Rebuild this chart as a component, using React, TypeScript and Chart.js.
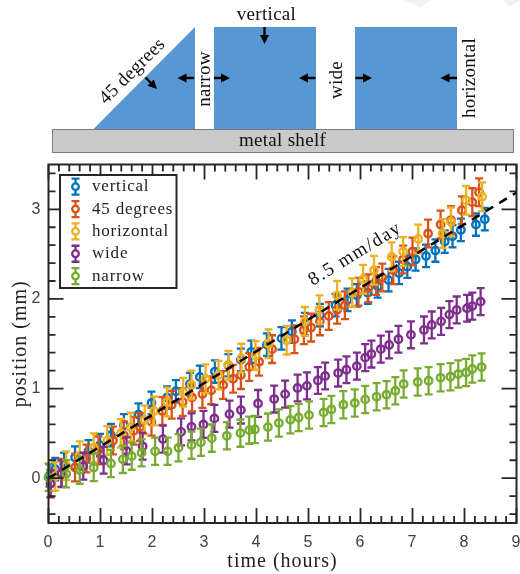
import React, { useEffect, useRef } from "react";
import { Chart, registerables } from "chart.js";

Chart.register(...registerables);

const seriesNames = ["vertical", "45 degrees", "horizontal", "wide", "narrow"];
const seriesColors = ["#0072BD", "#D95319", "#EDB120", "#7E2F8E", "#77AC30"];
const seriesErrors = [0.125, 0.155, 0.16, 0.15, 0.152];

const verticalT = [0.02, 0.13, 0.3, 0.51, 0.77, 0.99, 1.2, 1.45, 1.73, 1.98, 2.28, 2.45, 2.72, 2.91, 3.2, 3.46, 3.7, 3.9, 4.2, 4.48, 4.68, 4.93, 5.22, 5.52, 5.75, 5.93, 6.14, 6.33, 6.54, 6.74, 6.9, 7.06, 7.26, 7.44, 7.62, 7.77, 7.93, 8.22, 8.39];
const verticalY = [0.03, 0.1, 0.16, 0.23, 0.3, 0.37, 0.48, 0.59, 0.71, 0.84, 0.9, 0.97, 1.05, 1.13, 1.19, 1.26, 1.32, 1.41, 1.49, 1.56, 1.635, 1.72, 1.82, 1.93, 1.99, 2.04, 2.07, 2.14, 2.21, 2.29, 2.36, 2.44, 2.48, 2.54, 2.64, 2.7, 2.77, 2.83, 2.89];

const degreesT = [0.04, 0.25, 0.51, 0.73, 0.96, 1.24, 1.45, 1.64, 1.76, 1.98, 2.19, 2.37, 2.58, 2.76, 2.96, 3.13, 3.36, 3.55, 3.7, 3.86, 4.05, 4.3, 4.73, 4.91, 5.05, 5.22, 5.39, 5.55, 5.7, 5.96, 6.15, 6.3, 6.42, 6.63, 6.82, 7.0, 7.3, 7.54, 7.74, 7.95, 8.15, 8.28];
const degreesY = [-0.06, 0.06, 0.12, 0.22, 0.31, 0.42, 0.48, 0.53, 0.57, 0.63, 0.75, 0.82, 0.85, 0.9, 0.94, 0.98, 1.04, 1.11, 1.15, 1.24, 1.3, 1.44, 1.55, 1.65, 1.68, 1.75, 1.81, 1.88, 1.93, 2.08, 2.12, 2.2, 2.24, 2.32, 2.44, 2.53, 2.73, 2.83, 2.88, 2.99, 3.08, 3.19];

const horizontalT = [0.13, 0.34, 0.6, 0.87, 1.13, 1.39, 1.58, 1.85, 2.03, 2.28, 2.59, 2.75, 3.02, 3.27, 3.46, 3.71, 3.98, 4.23, 4.58, 4.93, 5.21, 5.55, 5.84, 6.05, 6.26, 6.6, 6.82, 7.11, 7.58, 7.74, 8.03, 8.34];
const horizontalY = [0.02, 0.14, 0.25, 0.34, 0.42, 0.5, 0.57, 0.65, 0.75, 0.85, 0.96, 1.04, 1.11, 1.15, 1.26, 1.34, 1.37, 1.5, 1.54, 1.75, 1.88, 2.04, 2.07, 2.22, 2.32, 2.47, 2.53, 2.67, 2.73, 2.86, 3.1, 3.14];

const wideT = [0.04, 0.25, 0.67, 1.06, 1.5, 1.81, 2.2, 2.55, 2.75, 2.98, 3.19, 3.48, 3.7, 4.03, 4.34, 4.55, 4.79, 4.97, 5.18, 5.32, 5.57, 5.73, 5.93, 6.09, 6.21, 6.39, 6.55, 6.73, 6.97, 7.22, 7.37, 7.55, 7.71, 7.85, 8.05, 8.15, 8.31];
const wideY = [-0.06, 0.05, 0.134, 0.2, 0.305, 0.357, 0.436, 0.517, 0.573, 0.6, 0.667, 0.715, 0.76, 0.834, 0.883, 0.938, 1.006, 1.03, 1.09, 1.14, 1.173, 1.21, 1.25, 1.345, 1.385, 1.44, 1.486, 1.55, 1.6, 1.654, 1.71, 1.75, 1.825, 1.877, 1.896, 1.92, 1.97];

const narrowT = [0, 0.34, 0.6, 0.87, 1.2, 1.43, 1.6, 1.79, 2.05, 2.29, 2.5, 2.75, 2.93, 3.14, 3.43, 3.69, 3.86, 3.97, 4.22, 4.43, 4.65, 4.81, 5.01, 5.29, 5.44, 5.67, 5.89, 6.09, 6.31, 6.5, 6.67, 6.83, 7.1, 7.31, 7.54, 7.73, 7.88, 8.03, 8.15, 8.33];
const narrowY = [0.01, 0.05, 0.09, 0.12, 0.164, 0.21, 0.246, 0.283, 0.3, 0.3, 0.339, 0.369, 0.4, 0.447, 0.473, 0.503, 0.536, 0.544, 0.57, 0.615, 0.651, 0.678, 0.704, 0.734, 0.767, 0.819, 0.838, 0.879, 0.908, 0.931, 0.976, 1.05, 1.073, 1.087, 1.12, 1.132, 1.162, 1.18, 1.218, 1.24];

const seriesT = [verticalT, degreesT, horizontalT, wideT, narrowT];
const seriesY = [verticalY, degreesY, horizontalY, wideY, narrowY];

const fitT = [0, 9];
const fitY = [0, 3.1875];
const fitLabel = "8.5 mm/day";
const fitLabelAt = [5.9, 2.5];

const yTicks = [-0.4, -0.2, 0, 0.2, 0.4, 0.6, 0.8, 1, 1.2, 1.4, 1.6, 1.8, 2, 2.2, 2.4, 2.6, 2.8, 3, 3.2, 3.4];

const xLabel = "time (hours)";
const yLabel = "position (mm)";
const SERIF = '"Liberation Serif"';
const AXIS = "#262626";

function arrow(ctx: CanvasRenderingContext2D, x1: number, y1: number, x2: number, y2: number) {
  const a = Math.atan2(y2 - y1, x2 - x1);
  const len = Math.hypot(x2 - x1, y2 - y1);
  ctx.save();
  ctx.translate(x1, y1);
  ctx.rotate(a);
  ctx.fillStyle = "#000";
  ctx.fillRect(0, -1.2, len - 6, 2.4);
  ctx.beginPath();
  ctx.moveTo(len, 0);
  ctx.lineTo(len - 9, -4.5);
  ctx.lineTo(len - 9, 4.5);
  ctx.closePath();
  ctx.fill();
  ctx.restore();
}

function label(ctx: CanvasRenderingContext2D, text: string, x: number, y: number, deg: number, size: number, spacing: number) {
  ctx.save();
  ctx.translate(x, y);
  ctx.rotate((deg * Math.PI) / 180);
  (ctx as any).letterSpacing = spacing + "px";
  ctx.font = `${size}px ${SERIF}`;
  ctx.fillStyle = "#111";
  ctx.textAlign = "center";
  ctx.textBaseline = "middle";
  ctx.fillText(text, 0, 0);
  ctx.restore();
}

function drawSchematic(ctx: CanvasRenderingContext2D) {
  ctx.save();
  ctx.fillStyle = "#f1f1f1";
  ctx.beginPath();
  ctx.moveTo(404, 0); ctx.lineTo(432, 0); ctx.lineTo(420, 7); ctx.closePath();
  ctx.moveTo(503, 0); ctx.lineTo(520, 0); ctx.lineTo(510, 7); ctx.closePath();
  ctx.fill();

  ctx.fillStyle = "#5797D3";
  ctx.beginPath();
  ctx.moveTo(93, 129.5); ctx.lineTo(195, 27); ctx.lineTo(195, 129.5); ctx.closePath();
  ctx.fill();
  ctx.fillRect(214, 27, 102, 102.5);
  ctx.fillRect(355, 27, 102, 102.5);

  ctx.fillStyle = "#c9c9c9";
  ctx.strokeStyle = "#7a7a7a";
  ctx.lineWidth = 1;
  ctx.fillRect(52.5, 129.5, 461, 23);
  ctx.strokeRect(52.5, 129.5, 461, 23);

  arrow(ctx, 264.5, 27, 264.5, 44);
  arrow(ctx, 145.5, 77.5, 157, 89);
  arrow(ctx, 194, 78, 177.5, 78);
  arrow(ctx, 214, 78, 230, 78);
  arrow(ctx, 315.5, 78, 299, 78);
  arrow(ctx, 355.5, 78, 372, 78);
  arrow(ctx, 457, 78, 440.5, 78);

  label(ctx, "vertical", 266.5, 15.5, 0, 19, 0.3);
  label(ctx, "45 degrees", 132.5, 71.5, -45, 19, 0.3);
  label(ctx, "narrow", 205.5, 79, -90, 19, 0.3);
  label(ctx, "wide", 337, 80, -90, 19, 0.3);
  label(ctx, "horizontal", 470.5, 78, -90, 19, 0.3);
  label(ctx, "metal shelf", 282.5, 141.5, 0, 19, 0.3);
  ctx.restore();
}

const overlay = {
  id: "overlay",
  beforeDraw(chart: any) {
    const ctx = chart.ctx;
    drawSchematic(ctx);
    ctx.letterSpacing = "1px";
  },
  beforeDatasetDraw(chart: any, args: any) {
    const i = args.index;
    if (i >= seriesNames.length) return;
    const { x, y } = chart.scales;
    const ctx = chart.ctx;
    ctx.save();
    ctx.strokeStyle = seriesColors[i];
    ctx.lineWidth = 2.3;
    ctx.beginPath();
    seriesT[i].forEach((t: number, k: number) => {
      const px = x.getPixelForValue(t);
      const top = y.getPixelForValue(seriesY[i][k] + seriesErrors[i]);
      const bot = y.getPixelForValue(seriesY[i][k] - seriesErrors[i]);
      ctx.moveTo(px, top); ctx.lineTo(px, bot);
      ctx.moveTo(px - 4, top); ctx.lineTo(px + 4, top);
      ctx.moveTo(px - 4, bot); ctx.lineTo(px + 4, bot);
    });
    ctx.stroke();
    ctx.restore();
  },
  afterDatasetsDraw(chart: any) {
    const { x, y } = chart.scales;
    const ctx = chart.ctx;
    const { left, right, top, bottom } = chart.chartArea;
    ctx.save();
    ctx.strokeStyle = AXIS;
    ctx.lineWidth = 1.8;
    ctx.beginPath();
    const isMajor = (v: number) => Math.abs(v - Math.round(v)) < 1e-6;
    x.ticks.forEach((t: any) => {
      const p = x.getPixelForValue(t.value);
      const l = isMajor(t.value) ? 15 : 7;
      ctx.moveTo(p, bottom); ctx.lineTo(p, bottom - l);
      ctx.moveTo(p, top); ctx.lineTo(p, top + l);
    });
    y.ticks.forEach((t: any) => {
      const p = y.getPixelForValue(t.value);
      const l = isMajor(t.value) ? 15 : 7;
      ctx.moveTo(left, p); ctx.lineTo(left + l, p);
      ctx.moveTo(right, p); ctx.lineTo(right - l, p);
    });
    ctx.stroke();
    ctx.lineWidth = 2;
    ctx.strokeRect(left, top, right - left, bottom - top);
    ctx.restore();
    label(ctx, fitLabel, x.getPixelForValue(fitLabelAt[0]), y.getPixelForValue(fitLabelAt[1]), -31.5, 19, 1.5);
  },
  afterDraw(chart: any) {
    const ctx = chart.ctx;
    ctx.save();
    ctx.fillStyle = "#fff";
    ctx.strokeStyle = AXIS;
    ctx.lineWidth = 2;
    ctx.fillRect(60, 175, 116.5, 113);
    ctx.strokeRect(60, 175, 116.5, 113);
    seriesNames.forEach((name, i) => {
      const cy = 186.7 + i * 22.35;
      ctx.strokeStyle = seriesColors[i];
      ctx.lineWidth = 2.3;
      ctx.beginPath();
      ctx.moveTo(75.5, cy - 8); ctx.lineTo(75.5, cy + 8);
      ctx.moveTo(71.5, cy - 8); ctx.lineTo(79.5, cy - 8);
      ctx.moveTo(71.5, cy + 8); ctx.lineTo(79.5, cy + 8);
      ctx.stroke();
      ctx.beginPath();
      ctx.arc(75.5, cy, 3.3, 0, Math.PI * 2);
      ctx.fillStyle = "#fff";
      ctx.fill();
      ctx.stroke();
      ctx.letterSpacing = "0.8px";
      ctx.font = `17px ${SERIF}`;
      ctx.fillStyle = "#222";
      ctx.textAlign = "left";
      ctx.textBaseline = "middle";
      ctx.fillText(name, 92, cy);
    });
    ctx.restore();
  },
};

const integerOnly = (v: any) => (Math.abs(v - Math.round(v)) < 1e-6 ? String(Math.round(v)) : "");

export default function App() {
  const ref = useRef<HTMLCanvasElement>(null);
  useEffect(() => {
    const datasets: any[] = seriesNames.map((name, i) => ({
      label: name,
      data: seriesT[i].map((t, k) => ({ x: t, y: seriesY[i][k] })),
      showLine: false,
      pointStyle: "circle",
      pointRadius: 3.7,
      pointBorderWidth: 2.4,
      borderColor: seriesColors[i],
      backgroundColor: "rgba(0,0,0,0)",
      order: 5 - i,
      clip: false,
    }));
    datasets.push({
      label: "fit",
      data: fitT.map((t, k) => ({ x: t, y: fitY[k] })),
      showLine: true,
      pointRadius: 0,
      borderColor: "#000",
      borderWidth: 2.5,
      borderDash: [9, 7],
      order: 0,
    });
    const chart = new Chart(ref.current!, {
      type: "scatter",
      data: { datasets },
      plugins: [overlay],
      options: {
        animation: false,
        responsive: false,
        layout: { autoPadding: false, padding: { top: 164.5, right: 3.5, left: 0, bottom: 0 } },
        plugins: { legend: { display: false }, tooltip: { enabled: false } },
        scales: {
          x: {
            type: "linear",
            min: 0,
            max: 9,
            afterFit: (s: any) => { s.height = 51; s.paddingLeft = 0; s.paddingRight = 0; },
            grid: { display: false, drawTicks: false },
            border: { display: false },
            ticks: {
              stepSize: 0.2,
              autoSkip: false,
              maxRotation: 0,
              padding: 10,
              color: "#404040",
              font: { family: '"Liberation Sans"', size: 16 },
              callback: integerOnly,
            },
            title: { display: true, text: xLabel, color: "#222", font: { family: SERIF, size: 20 }, padding: { top: 0, bottom: 0 } },
          },
          y: {
            type: "linear",
            min: -0.5,
            max: 3.5,
            afterBuildTicks: (s: any) => { s.ticks = yTicks.map((value) => ({ value })); },
            afterFit: (s: any) => { s.width = 48.5; s.paddingTop = 0; s.paddingBottom = 0; },
            grid: { display: false, drawTicks: false },
            border: { display: false },
            ticks: {
              autoSkip: false,
              padding: 7,
              color: "#404040",
              font: { family: '"Liberation Sans"', size: 16 },
              callback: integerOnly,
            },
            title: { display: true, text: yLabel, color: "#222", font: { family: SERIF, size: 20 }, padding: { top: 9, bottom: 0 } },
          },
        },
      },
    } as any);
    return () => chart.destroy();
  }, []);
  return (
    <div style={{ position: "absolute", left: 0, top: 0, width: 520, height: 574 }}>
      <canvas ref={ref} width={520} height={574} style={{ display: "block" }} />
    </div>
  );
}
